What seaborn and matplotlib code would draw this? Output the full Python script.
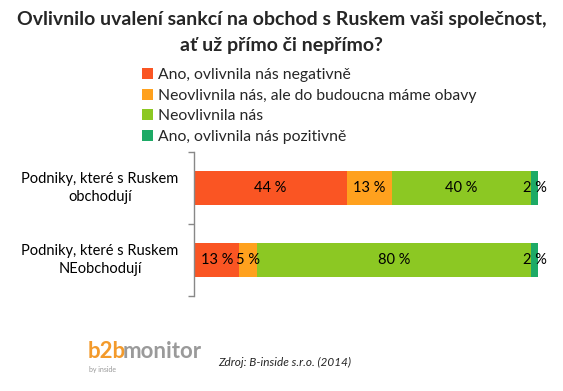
import matplotlib
matplotlib.use("Agg")
import matplotlib.pyplot as plt
import seaborn as sns
import pandas as pd
import numpy as np
from matplotlib.patches import Patch
import matplotlib.transforms as mtransforms

sns.set_theme(style="white")
plt.rcParams['font.family'] = ['Lato', 'DejaVu Sans']

categories = ["Podniky, které s Ruskem\nobchodují", "Podniky, které s Ruskem\nNEobchodují"]
series = ["Ano, ovlivnila nás negativně",
          "Neovlivnila nás, ale do budoucna máme obavy",
          "Neovlivnila nás",
          "Ano, ovlivnila nás pozitivně"]
values = {
    series[0]: [44.4, 13.2],
    series[1]: [13.2, 5.0],
    series[2]: [40.4, 79.8],
    series[3]: [2.0, 2.0],
}
labels = {
    series[0]: ["44 %", "13 %"],
    series[1]: ["13 %", "5 %"],
    series[2]: ["40 %", "80 %"],
    series[3]: ["2 %", "2 %"],
}
colors = ["#FA5523", "#FFA11E", "#8CC823", "#1DAA66"]
title_lines = ["Ovlivnilo uvalení sankcí na obchod s Ruskem vaši společnost,",
               "ať už přímo či nepřímo?"]

fig = plt.figure(figsize=(5.63, 3.91), dpi=100)
ax = fig.add_axes([194/563, 1-296/391, 344/563, 144/391])

cum = np.zeros(len(categories))
cums = []
for s in series:
    start = cum.copy()
    cum = cum + np.array(values[s])
    cums.append((start, cum.copy()))

# draw from the last (largest cumulative) to the first
for i in reversed(range(len(series))):
    df = pd.DataFrame({"cat": categories, "val": cums[i][1]})
    sns.barplot(data=df, y="cat", x="val", color=colors[i], orient="h",
                width=0.48, ax=ax, saturation=1, edgecolor="none")

for i, s in enumerate(series):
    start, end = cums[i]
    for j in range(len(categories)):
        mid = (start[j] + end[j]) / 2
        ax.text(mid, j, labels[s][j], ha="center", va="center", fontsize=10.5, color="black")

ax.set_xlim(0, 100)
ax.set_ylim(1.5, -0.5)
ax.set_xlabel("")
ax.set_ylabel("")
ax.set_xticks([])
ax.set_yticks([])
ax.set_yticks([-0.5, 0.5, 1.5], minor=True)
ax.tick_params(axis="y", which="minor", left=True, length=4, color="#888888", width=1)
for sp in ["top", "right", "bottom"]:
    ax.spines[sp].set_visible(False)
ax.spines["left"].set_color("#888888")
ax.spines["left"].set_linewidth(1)

trans = mtransforms.blended_transform_factory(ax.transAxes, ax.transData)
for j, c in enumerate(categories):
    ax.text(-0.273, j, c, transform=trans, ha="center", va="center",
            fontsize=10.5, color="black", linespacing=1.45)

fig.text(0.5, 1-19/391, title_lines[0], ha="center", va="center", fontsize=14, fontweight="bold")
fig.text(0.5, 1-45/391, title_lines[1], ha="center", va="center", fontsize=14, fontweight="bold")

handles = [Patch(facecolor=c, edgecolor="none") for c in colors]
fig.legend(handles, series, loc="upper left", bbox_to_anchor=(142/563, 1-68/391),
           frameon=False, fontsize=11.3, handlelength=0.7, handleheight=0.7,
           handletextpad=0.35, labelspacing=0.42, borderpad=0, borderaxespad=0)

fig.text(88/563, 1-358/391, "b2b", color="#F39A2B", fontsize=16, fontweight="bold", ha="left", va="baseline")
fig.text(123/563, 1-358/391, "monitor", color="#9A9A9A", fontsize=16, fontweight="bold", ha="left", va="baseline")
fig.text(89/563, 1-372/391, "by inside", color="#9A9A9A", fontsize=5, ha="left", va="baseline")
fig.text(218/563, 1-362/391, "Zdroj: B-inside s.r.o. (2014)", fontsize=8.5, style="italic", ha="left", va="center")

fig.savefig("out.png", dpi=100)
